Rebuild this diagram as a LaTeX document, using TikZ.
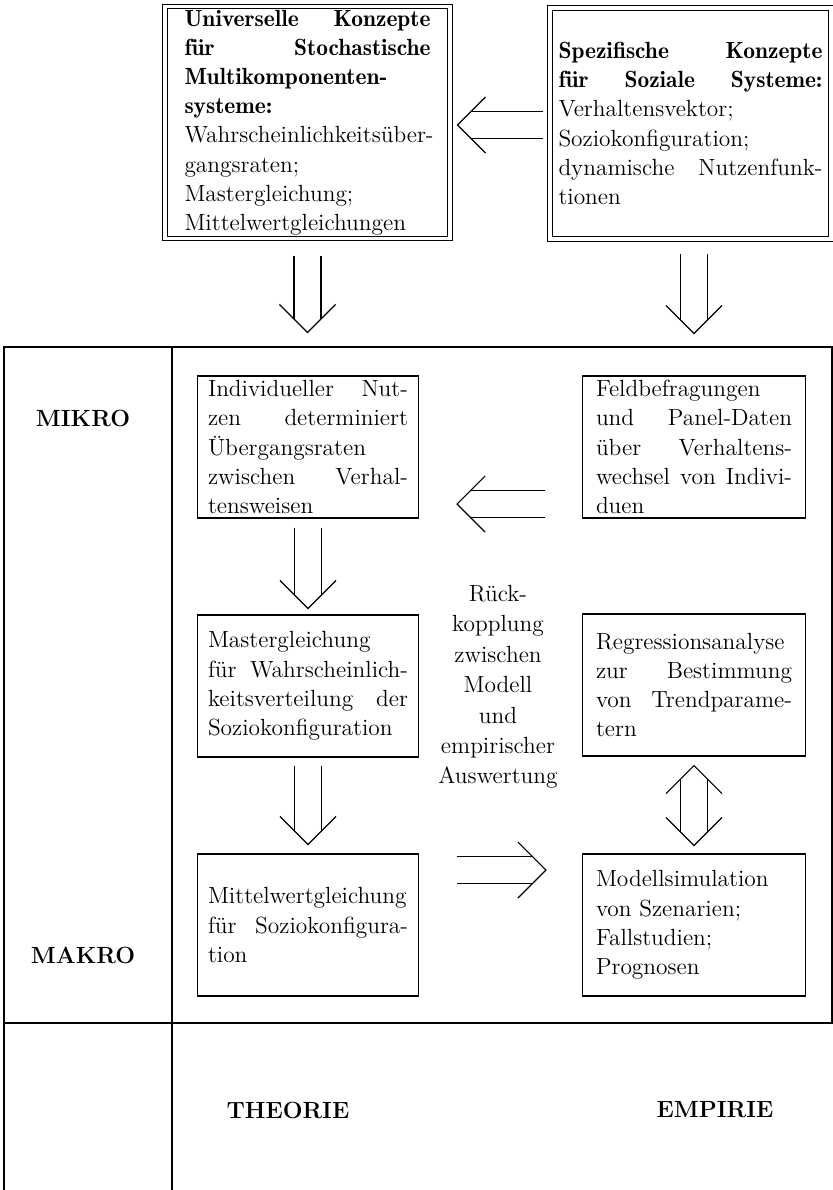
\documentclass[tikz,border=0pt]{standalone}
\usetikzlibrary{calc}
\newcommand\jl[1]{\hbox to\hsize{#1}}
\newcommand\rl[1]{\hbox to\hsize{#1\hfil}}
\newcommand\hd{\fontseries{b}\fontsize{11.7}{14.6}\selectfont}
\newcommand\bt[2]{\vbox{\hsize=#1\relax\baselineskip=14.6pt\relax\lineskiplimit=-20pt\relax #2}}
\tikzset{
  arr/.style={line width=0.6pt},
  box/.style={draw, line width=0.6pt, inner sep=0pt, minimum height=71pt, font=\fontsize{11.7}{14.6}\selectfont},
  lbox/.style={box, minimum width=110.5pt},
  rbox/.style={box, minimum width=111.5pt},
  topbox/.style={draw, double, double distance=1.75pt, line width=0.55pt, inner sep=0pt, font=\fontsize{11.7}{14.6}\selectfont},
  lab/.style={font=\fontsize{11.7}{14}\selectfont\bfseries, inner sep=0pt},
  framethin/.style={line width=0.8pt},
  framethick/.style={line width=1.1pt}
}
\newcommand\dblarrow[2]{%
  \coordinate (tmpM) at ($(#2)!6.75pt!(#1)$);
  \coordinate (tmpW) at ($(#2)!14pt!(#1)$);
  \draw[arr] ($(#1)!6.75pt!90:(#2)$) -- ($(tmpM)!6.75pt!90:(#2)$);
  \draw[arr] ($(#1)!6.75pt!-90:(#2)$) -- ($(tmpM)!6.75pt!-90:(#2)$);
  \draw[arr] ($(tmpW)!14pt!90:(#2)$) -- (#2) -- ($(tmpW)!14pt!-90:(#2)$);
}
\newcommand\twowayarrow[2]{%
  \coordinate (tmpMa) at ($(#1)!6.75pt!(#2)$);
  \coordinate (tmpMb) at ($(#2)!6.75pt!(#1)$);
  \coordinate (tmpWa) at ($(#1)!14pt!(#2)$);
  \coordinate (tmpWb) at ($(#2)!14pt!(#1)$);
  \draw[arr] ($(tmpMa)!6.75pt!90:(#2)$) -- ($(tmpMb)!6.75pt!-90:(#1)$);
  \draw[arr] ($(tmpMa)!6.75pt!-90:(#2)$) -- ($(tmpMb)!6.75pt!90:(#1)$);
  \draw[arr] ($(tmpWa)!14pt!90:(#2)$) -- (#1) -- ($(tmpWa)!14pt!-90:(#2)$);
  \draw[arr] ($(tmpWb)!14pt!90:(#1)$) -- (#2) -- ($(tmpWb)!14pt!-90:(#1)$);
}
\begin{document}
\begin{tikzpicture}[x=0.5pt, y=-0.5pt]
\useasboundingbox (0,0) rectangle (833,1190);

% top boxes
\node[topbox, minimum width=142.5pt, minimum height=116pt] (U) at (307.5,122.5) {\bt{123pt}{%
  \jl{\hd Universelle Konzepte}%
  \jl{\hd für Stochastische}%
  \rl{\hd Multikomponenten-}%
  \rl{\hd systeme:}%
  \rl{Wahrscheinlichkeitsüber-}%
  \rl{gangsraten;}%
  \rl{Mastergleichung;}%
  \rl{Mittelwertgleichungen}}};
\node[topbox, minimum width=140.5pt, minimum height=115.5pt] (R) at (690.5,123.5) {\bt{132pt}{%
  \jl{\hd Spezifische Konzepte}%
  \jl{\hd für Soziale Systeme:}%
  \rl{Verhaltensvektor;}%
  \rl{Soziokonfiguration;}%
  \jl{dynamische Nutzenfunk-}%
  \rl{tionen}}};

% frame
\draw[framethin] (4,1190) -- (4,347) -- (832,347) -- (832,1023);
\draw[framethick] (4,1023) -- (833,1023);
\draw[framethick] (172,347) -- (172,1190);

% labels
\node[lab] (mikro) at (83,418) {MIKRO};
\node[lab] (makro) at (83,955) {MAKRO};
\node[lab] (theorie) at (288,1110) {THEORIE};
\node[lab] (empirie) at (715,1110) {EMPIRIE};

% inner boxes
\node[lbox] (A) at (308,447) {\bt{100pt}{%
  \jl{Individueller Nut-}%
  \jl{zen determiniert}%
  \rl{Übergangsraten}%
  \jl{zwischen Verhal-}%
  \rl{tensweisen}}};
\node[rbox] (B) at (694,447) {\bt{98pt}{%
  \rl{Feldbefragungen}%
  \jl{und Panel-Daten}%
  \jl{über Verhaltens-}%
  \jl{wechsel von Indivi-}%
  \rl{duen}}};
\node[lbox] (C) at (308,686) {\bt{100pt}{%
  \rl{Mastergleichung}%
  \jl{für Wahrscheinlich-}%
  \jl{keitsverteilung der}%
  \rl{Soziokonfiguration}}};
\node[rbox] (D) at (694,685) {\bt{98pt}{%
  \rl{Regressionsanalyse}%
  \jl{zur Bestimmung}%
  \jl{von Trendparame-}%
  \rl{tern}}};
\node[lbox] (E) at (308,925) {\bt{100pt}{%
  \rl{Mittelwertgleichung}%
  \jl{für Soziokonfigura-}%
  \rl{tion}}};
\node[rbox] (F) at (694,925) {\bt{98pt}{%
  \rl{Modellsimulation}%
  \rl{von Szenarien;}%
  \rl{Fallstudien;}%
  \rl{Prognosen}}};

\node[align=center, inner sep=0pt, font=\fontsize{11.7}{15.2}\selectfont] (rueck) at (498,687)
  {Rück-\\kopplung\\zwischen\\Modell\\und\\empirischer\\Auswertung};

% arrows
\coordinate (ru1) at ($(R.west)+(-6,1.5)$);
\coordinate (ru2) at ($(ru1 -| U.east)+(7,0)$);
\dblarrow{ru1}{ru2}

\coordinate (ua1) at ($(U.south)+(0,16.5)$);
\coordinate (ua2) at ($(ua1 |- A.north)+(0,-43)$);
\dblarrow{ua1}{ua2}

\coordinate (rb1) at ($(B.north)+(0,-121)$);
\coordinate (rb2) at ($(B.north)+(0,-42)$);
\dblarrow{rb1}{rb2}

\coordinate (ba1) at ($(B.west)+(-37,57)$);
\coordinate (ba2) at ($(ba1 -| A.east)+(38,0)$);
\dblarrow{ba1}{ba2}

\coordinate (ac1) at ($(A.south)+(0,9)$);
\coordinate (ac2) at ($(C.north)+(0,-6)$);
\dblarrow{ac1}{ac2}

\coordinate (ce1) at ($(C.south)+(0,8)$);
\coordinate (ce2) at ($(E.north)+(0,-9)$);
\dblarrow{ce1}{ce2}

\coordinate (ef1) at ($(E.east)+(38,-55)$);
\coordinate (ef2) at ($(ef1 -| F.west)+(-36,0)$);
\dblarrow{ef1}{ef2}

\coordinate (df1) at ($(D.south)+(0,9)$);
\coordinate (df2) at ($(F.north)+(0,-8)$);
\twowayarrow{df1}{df2}
\end{tikzpicture}
\end{document}
